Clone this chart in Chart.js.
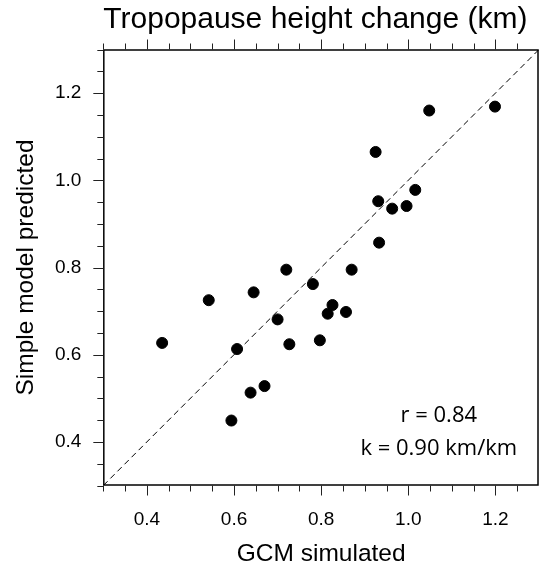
<!DOCTYPE html>
<html>
<head>
<meta charset="utf-8">
<script src="https://cdn.jsdelivr.net/npm/chart.js@4/dist/chart.umd.min.js"></script>
<style>
  html, body { margin: 0; padding: 0; background: #fff; }
  #wrap { width: 539px; height: 569px; }
</style>
</head>
<body>
<div id="wrap"><canvas id="chart"></canvas></div>
<script>
(function () {
  'use strict';

  // GCM simulated vs simple model predicted tropopause height change (km)
  var gcmSimulated = [1.048, 1.199, 0.925, 1.016, 0.931, 0.963, 0.996, 0.933, 0.720, 0.870, 0.781, 0.645,
                      0.542, 0.700, 0.435, 0.607, 0.727, 0.797, 0.670, 0.638, 0.594, 0.826, 0.815, 0.857];
  var modelPredicted = [1.160, 1.169, 1.065, 0.978, 0.952, 0.935, 0.941, 0.857, 0.795, 0.795, 0.762, 0.743,
                        0.725, 0.681, 0.627, 0.613, 0.624, 0.633, 0.528, 0.513, 0.449, 0.714, 0.694, 0.698];

  var axisRange = [0.3, 1.3];
  var majorTicks = [0.4, 0.6, 0.8, 1.0, 1.2];
  var minorTicks = [0.3, 0.35, 0.45, 0.5, 0.55, 0.65, 0.7, 0.75, 0.85, 0.9, 0.95, 1.05, 1.1, 1.15, 1.25, 1.3];
  var statsText = ['r = 0.84', 'k = 0.90 km/km'];

  var points = gcmSimulated.map(function (x, i) { return { x: x, y: modelPredicted[i] }; });
  var oneToOne = axisRange.map(function (v) { return { x: v, y: v }; });

  var sans = '"Liberation Sans", Arial, sans-serif';

  function setTicks(scale) {
    scale.ticks = majorTicks.map(function (v) { return { value: v }; });
  }

  // frame, outward tick marks and the r / k text
  var framePlugin = {
    id: 'frame',
    afterDraw: function (chart) {
      var ctx = chart.ctx, a = chart.chartArea;
      var sx = chart.scales.x, sy = chart.scales.y;
      ctx.save();
      ctx.strokeStyle = '#000';
      ctx.lineWidth = 1.5;
      ctx.strokeRect(a.left + 0.5, a.top + 0.5, a.right - a.left - 1.5, a.bottom - a.top - 1);

      ctx.lineWidth = 1;
      ctx.strokeStyle = '#222';
      function tick(vals, len) {
        vals.forEach(function (v) {
          var px = Math.round(sx.getPixelForValue(v)) + 0.5;
          var py = Math.round(sy.getPixelForValue(v)) + 0.5;
          ctx.beginPath();
          ctx.moveTo(px, a.bottom); ctx.lineTo(px, a.bottom + len);
          ctx.moveTo(px, a.top); ctx.lineTo(px, a.top - len);
          ctx.moveTo(a.left, py); ctx.lineTo(a.left - len, py);
          ctx.stroke();
        });
      }
      tick(majorTicks, 10);
      tick(minorTicks, 6);

      ctx.fillStyle = '#000';
      ctx.font = '22px "Open Sans"';
      ctx.textAlign = 'center';
      ctx.textBaseline = 'alphabetic';
      ctx.fillText(statsText[0], sx.getPixelForValue(1.07), sy.getPixelForValue(0.446));
      ctx.fillText(statsText[1], sx.getPixelForValue(1.07), sy.getPixelForValue(0.371));
      ctx.restore();
    }
  };

  new Chart(document.getElementById('chart'), {
    type: 'scatter',
    data: {
      datasets: [
        { data: points, backgroundColor: '#000', borderColor: '#000', pointRadius: 5.5, pointHoverRadius: 5.5 },
        { type: 'line', data: oneToOne, borderColor: '#000', borderWidth: 1, borderDash: [6, 4], pointRadius: 0, fill: false }
      ]
    },
    options: {
      responsive: true,
      maintainAspectRatio: false,
      animation: false,
      layout: { padding: 0, autoPadding: false },
      plugins: {
        legend: { display: false },
        tooltip: { enabled: false },
        title: {
          display: true,
          fullSize: false,
          align: 'start',
          text: 'Tropopause height change (km)',
          color: '#000',
          font: { family: sans, size: 30, weight: 'normal' },
          padding: { top: 2, bottom: 11.5 }
        }
      },
      scales: {
        x: {
          type: 'linear',
          min: axisRange[0],
          max: axisRange[1],
          afterBuildTicks: setTicks,
          // invisible tick marks only reserve the gap to the labels
          grid: { display: false, drawTicks: true, tickLength: 23 },
          border: { display: false },
          ticks: {
            padding: 0,
            color: '#000',
            font: { family: sans, size: 19 },
            callback: function (v) { return (+v).toFixed(1); }
          },
          title: {
            display: true,
            text: 'GCM simulated',
            color: '#000',
            font: { family: sans, size: 24.5 },
            padding: { top: 8.3, bottom: 0 }
          }
        },
        y: {
          type: 'linear',
          min: axisRange[0],
          max: axisRange[1],
          afterBuildTicks: setTicks,
          grid: { display: false, drawTicks: true, tickLength: 22 },
          border: { display: false },
          ticks: {
            padding: 0,
            color: '#000',
            font: { family: sans, size: 19 },
            callback: function (v) { return (+v).toFixed(1); }
          },
          title: {
            display: true,
            text: 'Simple model predicted',
            color: '#000',
            font: { family: sans, size: 24.5 },
            padding: { top: 12, bottom: 13.5 }
          }
        }
      }
    },
    plugins: [framePlugin]
  });
})();
</script>
</body>
</html>
